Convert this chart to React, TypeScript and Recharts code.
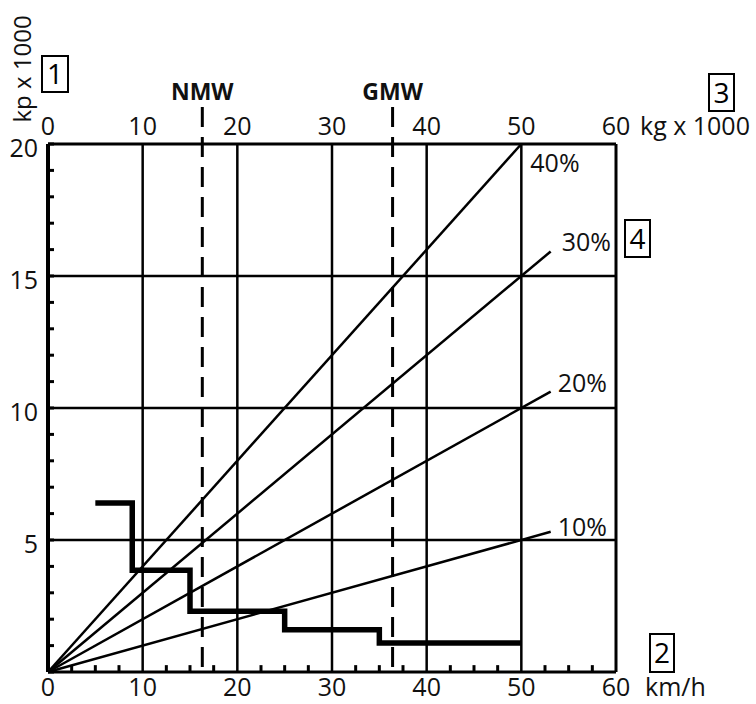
import {
  ComposedChart,
  Line,
  XAxis,
  YAxis,
  ReferenceLine,
} from "recharts";

// km/h ticks on the bottom (minor every 2.5), kg x 1000 on top, kp x 1000 on the left
const speedTicks = [
  0, 2.5, 5, 7.5, 10, 12.5, 15, 17.5, 20, 22.5, 25, 27.5, 30, 32.5, 35, 37.5,
  40, 42.5, 45, 47.5, 50, 52.5, 55, 57.5, 60,
];
const speedLabels = [0, 10, 20, 30, 40, 50, 60];
const weightTicks = [0, 10, 20, 30, 40, 50, 60];
const forceTicks = [
  0, 1, 2, 3, 4, 5, 6, 7, 8, 9, 10, 11, 12, 13, 14, 15, 16, 17, 18, 19, 20,
];
const gridX = [10, 20, 30, 40, 50];
const gridY = [5, 10, 15];

// gradient lines (from the origin)
const grade10 = [
  { x: 0, y: 0 },
  { x: 53.1, y: 5.31 },
];
const grade20 = [
  { x: 0, y: 0 },
  { x: 53.1, y: 10.62 },
];
const grade30 = [
  { x: 0, y: 0 },
  { x: 53.1, y: 15.93 },
];
const grade40 = [
  { x: 0, y: 0 },
  { x: 50, y: 20 },
];

// tractive force per gear
const tractive = [
  { x: 5, y: 6.4 },
  { x: 8.9, y: 3.85 },
  { x: 15, y: 2.3 },
  { x: 25, y: 1.6 },
  { x: 35, y: 1.1 },
  { x: 50, y: 1.1 },
];

const nmw = 16.3;
const gmw = 36.4;

const FONT = "'Open Sans', sans-serif";
const SIZE = 25;

function LeftTick(props: any) {
  const { x, y, payload } = props;
  const v = payload.value;
  return (
    <g>
      <line x1={x} x2={x + 6} y1={y} y2={y} stroke="#000" strokeWidth={3} />
      {v > 0 && v % 5 === 0 && (
        <text
          x={x - 10}
          y={y + 13}
          textAnchor="end"
          fontFamily={FONT}
          fontSize={SIZE}
          fill="#111"
        >
          {v}
        </text>
      )}
    </g>
  );
}

function BottomTick(props: any) {
  const { x, y, payload } = props;
  const v = payload.value;
  return (
    <g>
      <text
        x={x}
        y={y + 24}
        textAnchor="middle"
        fontFamily={FONT}
        fontSize={SIZE}
        fill="#111"
      >
        {v}
      </text>
      {v === 60 && (
        <text x={x + 29} y={y + 24} fontFamily={FONT} fontSize={SIZE} fill="#111">
          km/h
        </text>
      )}
    </g>
  );
}

function TopTick(props: any) {
  const { x, y, payload } = props;
  const v = payload.value;
  return (
    <g>
      <text
        x={x}
        y={y - 9}
        textAnchor="middle"
        fontFamily={FONT}
        fontSize={SIZE}
        fill="#111"
      >
        {v}
      </text>
      {v === 60 && (
        <text x={x + 24} y={y - 9} fontFamily={FONT} fontSize={SIZE} fill="#111">
          kg x 1000
        </text>
      )}
    </g>
  );
}

function endLabel(text: string, dx: number, dy: number, count: number) {
  return (props: any) => {
    const { x, y, index } = props;
    if (index !== count - 1) return null;
    return (
      <text
        x={x + dx}
        y={y + dy}
        fontFamily={FONT}
        fontSize={SIZE}
        fill="#111"
      >
        {text}
      </text>
    );
  };
}

function Boxed({ x, y, w, h, n }: { x: number; y: number; w: number; h: number; n: string }) {
  return (
    <g>
      <rect x={x} y={y} width={w} height={h} fill="none" stroke="#000" strokeWidth={2} />
      <text
        x={x + w / 2}
        y={y + h / 2 + 10}
        textAnchor="middle"
        fontFamily={FONT}
        fontSize={28}
        fill="#000"
      >
        {n}
      </text>
    </g>
  );
}

function Annotations() {
  return (
    <g>
      <text
        transform="translate(31,69) rotate(-90)"
        textAnchor="middle"
        fontFamily={FONT}
        fontSize={24}
        fill="#111"
      >
        kp x 1000
      </text>
      <Boxed x={42} y={56} w={26} h={36} n="1" />
      <Boxed x={709} y={74} w={25} h={37} n="3" />
      <Boxed x={625} y={220} w={25} h={37} n="4" />
      <Boxed x={650} y={634} w={24} h={38} n="2" />
    </g>
  );
}

const line = { stroke: "#000", strokeWidth: 2.5, dot: false, isAnimationActive: false } as const;

export default function App() {
  return (
    <div>
      <style>{`body{margin:0;overflow:hidden}`}</style>
      <ComposedChart
        width={756}
        height={704}
        margin={{ top: 114, right: 140, bottom: 2, left: 8 }}
      >
        <XAxis
          xAxisId="bottom"
          type="number"
          dataKey="x"
          domain={[0, 60]}
          ticks={speedLabels}
          interval={0}
          height={30}
          tickSize={0}
          tickMargin={0}
          tickLine={false}
          axisLine={{ stroke: "#000", strokeWidth: 3 }}
          tick={<BottomTick />}
        />
        <XAxis
          xAxisId="top"
          orientation="top"
          type="number"
          dataKey="x"
          domain={[0, 60]}
          ticks={weightTicks}
          interval={0}
          height={30}
          tickSize={0}
          tickMargin={0}
          tickLine={false}
          axisLine={{ stroke: "#000", strokeWidth: 3 }}
          tick={<TopTick />}
        />
        <YAxis
          type="number"
          domain={[0, 20]}
          ticks={forceTicks}
          interval={0}
          minTickGap={0}
          width={40}
          tickSize={0}
          tickMargin={0}
          tickLine={false}
          axisLine={{ stroke: "#000", strokeWidth: 4 }}
          tick={<LeftTick />}
        />

        {gridX.map((v) => (
          <ReferenceLine key={"gx" + v} xAxisId="bottom" x={v} stroke="#000" strokeWidth={2.5} />
        ))}
        {gridY.map((v) => (
          <ReferenceLine key={"gy" + v} xAxisId="bottom" y={v} stroke="#000" strokeWidth={2.5} />
        ))}
        <ReferenceLine xAxisId="bottom" x={60} stroke="#000" strokeWidth={3} />

        {/* minor km/h ticks, pointing up into the plot */}
        {speedTicks
          .filter((v) => v % 10 !== 0)
          .map((v) => (
            <ReferenceLine
              key={"mt" + v}
              xAxisId="bottom"
              segment={[
                { x: v, y: 0 },
                { x: v, y: 0.26 },
              ]}
              ifOverflow="visible"
              stroke="#000"
              strokeWidth={3}
            />
          ))}

        <Line xAxisId="bottom" data={grade10} dataKey="y" {...line} label={endLabel("10%", 7, 4, grade10.length)} />
        <Line xAxisId="bottom" data={grade20} dataKey="y" {...line} label={endLabel("20%", 7, 0, grade20.length)} />
        <Line xAxisId="bottom" data={grade30} dataKey="y" {...line} label={endLabel("30%", 11, 0, grade30.length)} />
        <Line xAxisId="top" data={grade40} dataKey="y" {...line} label={endLabel("40%", 9, 28, grade40.length)} />

        <Line
          xAxisId="bottom"
          data={tractive}
          dataKey="y"
          type="stepAfter"
          stroke="#000"
          strokeWidth={5.5}
          dot={false}
          isAnimationActive={false}
        />

        <ReferenceLine
          xAxisId="bottom"
          segment={[
            { x: nmw, y: 21.4 },
            { x: nmw, y: 0 },
          ]}
          ifOverflow="visible"
          stroke="#000"
          strokeWidth={3}
          strokeDasharray="20 10"
          label={{ value: "NMW", position: "top", offset: 7, fontFamily: FONT, fontSize: 23, fontWeight: 700, fill: "#111" }}
        />
        <ReferenceLine
          xAxisId="bottom"
          segment={[
            { x: gmw, y: 21.4 },
            { x: gmw, y: 0 },
          ]}
          ifOverflow="visible"
          stroke="#000"
          strokeWidth={3}
          strokeDasharray="20 10"
          label={{ value: "GMW", position: "top", offset: 7, fontFamily: FONT, fontSize: 23, fontWeight: 700, fill: "#111" }}
        />

        <Annotations />
      </ComposedChart>
    </div>
  );
}
